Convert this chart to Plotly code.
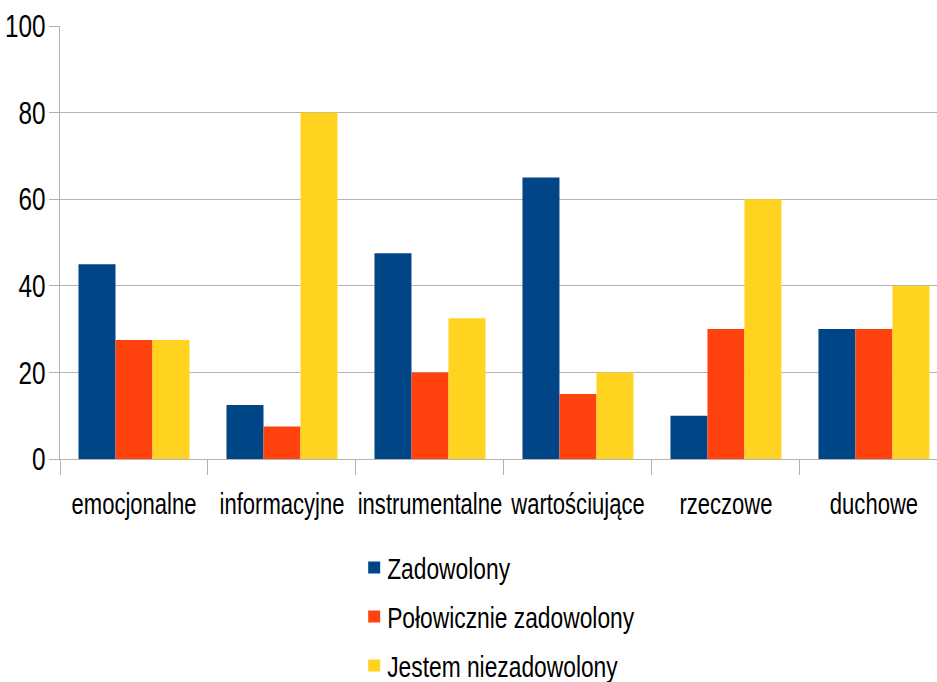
import plotly.graph_objects as go

categories = ["emocjonalne", "informacyjne", "instrumentalne", "wartościujące", "rzeczowe", "duchowe"]
zadowolony = [45, 12.5, 47.5, 65, 10, 30]
polowicznie = [27.5, 7.5, 20, 15, 30, 30]
niezadowolony = [27.5, 80, 32.5, 20, 60, 40]

series = [
    ("Zadowolony", zadowolony, "#004586"),
    ("Połowicznie zadowolony", polowicznie, "#ff420e"),
    ("Jestem niezadowolony", niezadowolony, "#ffd320"),
]

FONT = "Liberation Sans, Arial, sans-serif"
GRID = "#b3b3b3"
TEXT_SQUEEZE = 0.76  # horizontal condensing of every label
LEGEND_TEXT_SHIFT = -7  # pull legend labels closer to their swatches

fig = go.Figure()
for i, (name, vals, color) in enumerate(series):
    fig.add_trace(go.Bar(
        x=categories, y=vals, name=name,
        marker=dict(color=color, line=dict(width=0)),
        legendgroup=f"g{i}",
    ))

fig.update_layout(
    width=937, height=682,
    margin=dict(l=60, r=0, t=26, b=223, autoexpand=False),
    paper_bgcolor="white", plot_bgcolor="white",
    barmode="group", bargap=0.25, bargroupgap=0,
    font=dict(family=FONT, color="black"),
    showlegend=True,
    legend=dict(
        xref="container", yref="container",
        x=0.378, y=0.206, xanchor="left", yanchor="top",
        font=dict(size=30, family=FONT, color="black"),
        tracegroupgap=7, bgcolor="rgba(0,0,0,0)",
    ),
    xaxis=dict(
        range=[-0.5, 5.426], tickson="boundaries", tickangle=0,
        ticks="outside", ticklen=15, tickcolor=GRID, tickwidth=1,
        showline=True, linecolor=GRID, linewidth=1,
        showgrid=False, tickfont=dict(size=29, family=FONT),
        ticklabelstandoff=19, automargin=False,
    ),
    yaxis=dict(
        range=[0, 100], tickvals=[0, 20, 40, 60, 80, 100],
        ticks="outside", ticklen=10, tickcolor=GRID, tickwidth=1,
        showline=True, linecolor=GRID, linewidth=1,
        showgrid=True, gridcolor=GRID, gridwidth=1,
        zeroline=False, tickfont=dict(size=32, family=FONT),
        ticklabelstandoff=-3, automargin=False,
    ),
)

# Condense each SVG label horizontally around its own anchor point
squeeze_js = """
var gd = document.getElementById('{plot_id}');
gd.querySelectorAll('text').forEach(function(t){
  var x = parseFloat(t.getAttribute('x') || 0);
  var y = parseFloat(t.getAttribute('y') || 0);
  var dx = t.classList.contains('legendtext') ? %d : 0;
  var tr = t.getAttribute('transform') || '';
  t.setAttribute('transform', tr + ' translate(' + (x + dx) + ',' + y + ') scale(%s,1) translate(' + (-x) + ',' + (-y) + ')');
});
""" % (LEGEND_TEXT_SHIFT, TEXT_SQUEEZE)

fig.write_html("out.html", post_script=squeeze_js)
